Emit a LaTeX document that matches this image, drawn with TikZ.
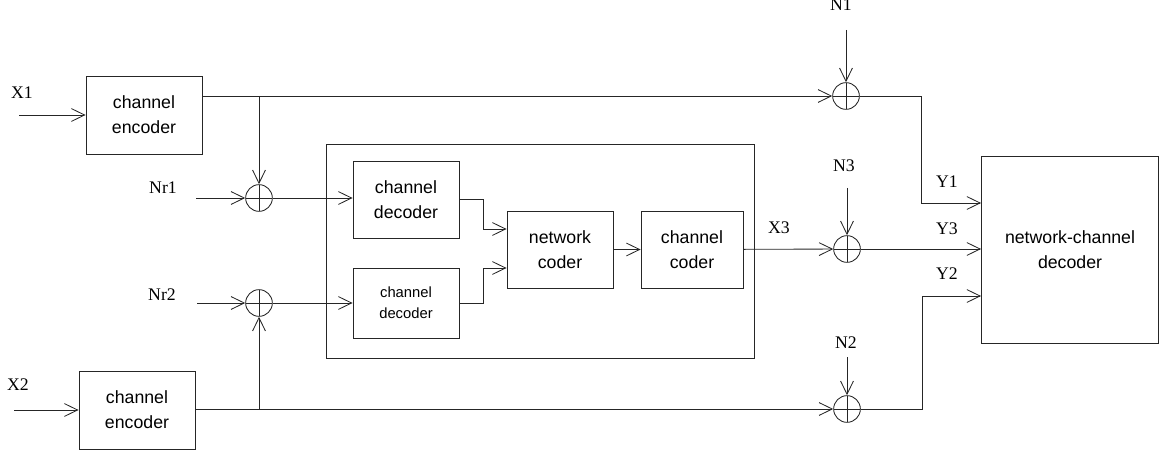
\documentclass[tikz,border=0pt]{standalone}
\usepackage{fontspec}
\setmainfont{Liberation Serif}
\setsansfont{Liberation Sans}
\usetikzlibrary{arrows.meta}

\begin{document}
\begin{tikzpicture}[x=0.025cm,y=-0.025cm,line width=0.6pt,draw=black!85,
    >={Straight Barb[length=3.3mm,width=3.2mm]},
    block/.style={draw,align=center,inner sep=0pt,
      font=\sffamily\fontsize{12.6}{17.8}\selectfont},
    adder/.style={draw,circle,minimum size=0.667cm,inner sep=0pt,
      path picture={\draw (path picture bounding box.north) -- (path picture bounding box.south)
        (path picture bounding box.west) -- (path picture bounding box.east);}},
    signal/.style={font=\fontsize{12.6}{15}\selectfont}]
\useasboundingbox (0,0) rectangle (1169,452);

\node [block,minimum width=2.9cm,minimum height=1.95cm]   (enc1) at (144,115)   {channel\\encoder};
\node [block,minimum width=2.9cm,minimum height=1.95cm]   (enc2) at (137,410)   {channel\\encoder};
\node [draw,minimum width=10.7cm,minimum height=5.35cm]   (relay) at (540,251)  {};
\node [block,minimum width=2.65cm,minimum height=1.925cm] (dec1) at (406,199.5) {channel\\decoder};
\node [block,minimum width=2.65cm,minimum height=1.75cm,
       font=\sffamily\fontsize{10.5}{14.7}\selectfont]    (dec2) at (406,303)   {channel\\decoder};
\node [block,minimum width=2.65cm,minimum height=1.925cm] (net)  at (560,249.5) {network\\coder};
\node [block,minimum width=2.55cm,minimum height=1.925cm] (cc)   at (692,249.5) {channel\\coder};
\node [block,minimum width=4.425cm,minimum height=4.675cm] (ncd) at (1070,249.5) {network-channel\\decoder};

\node [adder] (sr1) at (259,198) {};
\node [adder] (sr2) at (259,303) {};
\node [adder] (s1)  at (846,96)  {};
\node [adder] (s3)  at (847,249) {};
\node [adder] (s2)  at (847,409) {};

\node [signal] (lx1)  at (22,93)   {X1};
\node [signal] (lx2)  at (18,385)  {X2};
\node [signal] (lnr1) at (163,188) {Nr1};
\node [signal] (lnr2) at (162,295) {Nr2};
\node [signal] (lx3)  at (779,228) {X3};
\node [signal] (ln1)  at (841,5)   {N1};
\node [signal] (ln3)  at (844,166) {N3};
\node [signal] (ln2)  at (846,343) {N2};
\node [signal] (ly1)  at (947,182) {Y1};
\node [signal] (ly3)  at (947,229) {Y3};
\node [signal] (ly2)  at (947,274) {Y2};

\coordinate (x1in)  at (19,115);
\coordinate (x2in)  at (14,410);
\coordinate (nr1in) at (196,198);
\coordinate (nr2in) at (197,303);
\coordinate (n1in)  at (846,30);
\coordinate (n3in)  at (847,188);
\coordinate (n2in)  at (847,357);

\draw [->] (x1in) -- (enc1);
\draw [->] (enc1.east |- s1) -- (s1);
\draw [->] (sr1 |- s1) -- (sr1);
\draw [->] (nr1in) -- (sr1);
\draw [->] (sr1) -- (dec1.west |- sr1);
\draw [->] (x2in) -- (enc2);
\draw [->] (enc2.east |- s2) -- (s2);
\draw [->] (sr2 |- s2) -- (sr2);
\draw [->] (nr2in) -- (sr2);
\draw [->] (sr2) -- (dec2);
\draw [->] (dec1.east) -- ++(24,0) |- (net.west |- 0,229);
\draw [->] (dec2.east) -- ++(24,0) |- (net.west |- 0,268);
\draw [->] (net) -- (cc);
\draw [->] (cc) -- (s3);
\draw [->] (n1in) -- (s1);
\draw [->] (n3in) -- (s3);
\draw [->] (n2in) -- (s2);
\draw [->] (s1) -- ++(75,0) |- (ncd.west |- 0,203);
\draw [->] (s3) -- (ncd.west |- s3);
\draw [->] (s2) -- ++(75,0) |- (ncd.west |- 0,296);
\end{tikzpicture}
\end{document}
